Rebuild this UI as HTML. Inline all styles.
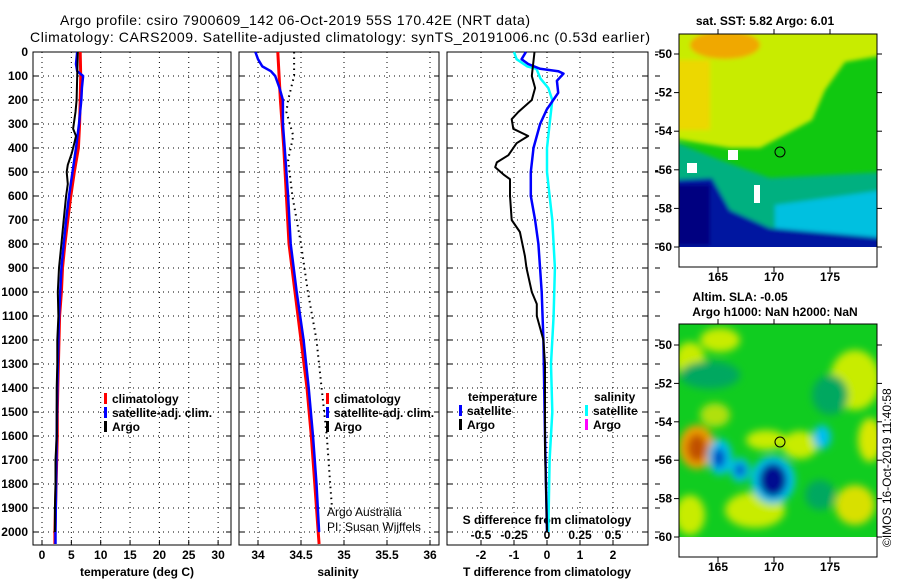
<!DOCTYPE html>
<html><head><meta charset="utf-8"><style>
html,body{margin:0;padding:0;background:#fff;}
svg{display:block;font-family:"Liberation Sans",sans-serif;}
.t{font-size:12px;font-weight:bold;fill:#000;}
</style></head><body>
<svg id="c" width="900" height="580" viewBox="0 0 900 580" xmlns="http://www.w3.org/2000/svg">
<defs>
<clipPath id="m1"><rect x="679" y="34" width="198" height="213"/></clipPath>
<clipPath id="m2"><rect x="679" y="324" width="198" height="213"/></clipPath>
<filter id="bl" x="-20%" y="-20%" width="140%" height="140%"><feGaussianBlur stdDeviation="4"/></filter>
<filter id="bl2" x="-20%" y="-20%" width="140%" height="140%"><feGaussianBlur stdDeviation="2"/></filter>
</defs>
<text x="295" y="25" text-anchor="middle" font-size="14" textLength="470">Argo profile: csiro 7900609_142 06-Oct-2019 55S 170.42E (NRT data)</text>
<text x="340" y="42" text-anchor="middle" font-size="14" textLength="620">Climatology: CARS2009. Satellite-adjusted climatology: synTS_20191006.nc (0.53d earlier)</text>

<g clip-path="url(#m1)">
<rect x="679" y="34" width="198" height="213" fill="#10c810"/>
<g filter="url(#bl2)">
<polygon points="670,25 885,25 885,55 845,62 825,90 812,120 790,132 760,148 730,148 670,138" fill="#c8ec00"/>
<ellipse cx="725" cy="45" rx="35" ry="14" fill="#f0a800"/>
<rect x="670" y="60" width="40" height="70" fill="#ecd800"/>
<polygon points="670,140 720,160 770,178 885,172 885,255 670,255" fill="#00b080"/>
<polygon points="775,205 885,190 885,255 775,255" fill="#00c0e0"/>
<polygon points="670,180 712,178 730,210 770,228 885,238 885,255 670,255" fill="#0018a0"/>
<rect x="670" y="185" width="40" height="60" fill="#000080"/>
</g>
<rect x="687" y="163" width="10" height="10" fill="#fff"/>
<rect x="728" y="150" width="10" height="10" fill="#fff"/>
<rect x="754" y="185" width="6" height="18" fill="#fff"/>
</g>
<rect x="679" y="34" width="198" height="233" fill="none" stroke="#000"/>
<circle cx="780" cy="152" r="5" fill="none" stroke="#000"/>
<text x="765" y="25" text-anchor="middle" class="t">sat. SST: 5.82 Argo: 6.01</text>

<g clip-path="url(#m2)">
<rect x="679" y="324" width="198" height="213" fill="#10cc20"/>
<g filter="url(#bl)">
<ellipse cx="690" cy="360" rx="15" ry="18" fill="#c8ec00"/>
<ellipse cx="720" cy="340" rx="20" ry="12" fill="#c8ec00"/>
<ellipse cx="855" cy="380" rx="25" ry="30" fill="#c8ec00"/>
<ellipse cx="870" cy="440" rx="12" ry="22" fill="#d8e800"/>
<ellipse cx="755" cy="510" rx="30" ry="18" fill="#c8ec00"/>
<ellipse cx="855" cy="505" rx="20" ry="20" fill="#d8e000"/>
<ellipse cx="690" cy="515" rx="15" ry="20" fill="#c8ec00"/>
<ellipse cx="800" cy="445" rx="18" ry="14" fill="#c8ec00"/>
<ellipse cx="766" cy="440" rx="20" ry="10" fill="#c8ec00"/>
<ellipse cx="715" cy="415" rx="15" ry="12" fill="#b0e010"/>
<ellipse cx="710" cy="375" rx="30" ry="14" fill="#00a860"/>
<ellipse cx="830" cy="395" rx="18" ry="20" fill="#00a860"/>
<ellipse cx="820" cy="495" rx="15" ry="15" fill="#00a860"/>
<ellipse cx="697" cy="447" rx="18" ry="22" fill="#f0a000"/>
<ellipse cx="697" cy="448" rx="10" ry="14" fill="#c05000"/>
<ellipse cx="720" cy="457" rx="12" ry="18" fill="#00c0f0"/>
<ellipse cx="740" cy="470" rx="10" ry="12" fill="#00c0f0"/>
<ellipse cx="773" cy="480" rx="22" ry="24" fill="#00c0f0"/>
<ellipse cx="822" cy="437" rx="9" ry="12" fill="#00c0f0"/>
<ellipse cx="719" cy="458" rx="6" ry="10" fill="#0040c0"/>
<ellipse cx="740" cy="470" rx="5" ry="6" fill="#0040c0"/>
<ellipse cx="773" cy="480" rx="14" ry="17" fill="#000890"/>
</g>
</g>
<rect x="679" y="324" width="198" height="233" fill="none" stroke="#000"/>
<circle cx="780" cy="442" r="5" fill="none" stroke="#000"/>
<text x="740" y="301" text-anchor="middle" class="t">Altim. SLA: -0.05</text>
<text x="775" y="316" text-anchor="middle" class="t">Argo h1000: NaN h2000: NaN</text>
<text transform="translate(891,547) rotate(-90)" font-size="12">©IMOS 16-Oct-2019 11:40:58</text>
<g id="axes"></g>
</svg>
<script>
const depthTicks = [0,100,200,300,400,500,600,700,800,900,1000,1100,1200,1300,1400,1500,1600,1700,1800,1900,2000];
const tempTicks = [0,5,10,15,20,25,30];
const salTicks = [34,34.5,35,35.5,36];
const salTickLabels = ['34','34.5','35','35.5','36'];
const dTTicks = [-2,-1,0,1,2];
const dSTicks = [-0.5,-0.25,0,0.25,0.5];
const dSTickLabels = ['-0.5','-0.25','0','0.25','0.5'];
const latTicks = [-50,-52,-54,-56,-58,-60];
const lonTicks = [165,170,175];

const tClimDepth = [0,100,200,300,400,500,600,700,800,900,1000,1100,1200,1300,1400,1500,1600,1700,1800,1900,2000,2050];
const tClim      = [6.5,6.6,6.5,6.4,6.2,5.5,4.9,4.4,3.9,3.5,3.3,3.0,2.9,2.8,2.7,2.6,2.6,2.5,2.4,2.3,2.2,2.2];
const tSatDepth = [0,50,80,100,150,200,300,400,500,600,700,800,900,1000,1100,1200,1400,1600,1800,2000,2050];
const tSat      = [6.0,5.8,6.0,7.0,6.8,6.7,6.3,5.8,5.2,4.6,4.1,3.7,3.3,3.1,2.9,2.8,2.6,2.5,2.4,2.3,2.3];
const tArgoDepth = [0,100,200,250,320,350,380,420,470,500,550,600,700,800,900,1000,1100,1200,1300,1400,1500,1600,1700,1800,1900,2000];
const tArgo      = [6.1,6.0,5.9,5.7,5.3,5.8,5.5,5.1,4.4,4.2,4.4,4.1,3.7,3.3,2.9,2.7,2.8,2.6,2.6,2.5,2.5,2.5,2.3,2.3,2.2,2.2];

const sClimDepth = [0,200,400,600,800,1000,1200,1400,1600,1800,2000,2050];
const sClim      = [34.23,34.26,34.30,34.33,34.36,34.43,34.50,34.57,34.62,34.66,34.70,34.71];
const sSatDepth = [0,30,60,80,100,150,200,300,400,600,800,1000,1200,1400,1600,1800,2000];
const sSat      = [33.97,34.0,34.05,34.15,34.2,34.25,34.29,34.29,34.31,34.35,34.38,34.45,34.53,34.59,34.64,34.68,34.71];
const sArgoDepth = [0,100,200,250,350,450,600,800,1000,1200,1400,1600,1800,1900];
const sArgo      = [34.42,34.42,34.35,34.33,34.41,34.35,34.40,34.50,34.58,34.68,34.74,34.80,34.84,34.86];

const dTArgoDepth = [0,100,150,200,250,280,320,350,380,430,460,480,510,530,600,700,750,850,900,1000,1050,1100,1150,1200,1300,1500,1650,2000];
const dTArgo      = [-0.38,-0.46,-0.36,-0.46,-0.87,-1.07,-1.02,-0.57,-0.92,-1.17,-1.52,-1.57,-1.32,-1.12,-1.12,-1.07,-0.82,-0.67,-0.62,-0.46,-0.31,-0.31,-0.21,-0.11,-0.06,-0.06,-0.06,0];
const dTSatDepth = [0,30,50,70,80,90,120,170,200,240,300,400,500,600,700,800,1000,1200,1600,2000];
const dTSat      = [-0.64,-0.77,-0.57,-0.21,0.34,0.50,0.30,0.34,0.19,-0.01,-0.21,-0.41,-0.49,-0.49,-0.36,-0.26,-0.16,-0.11,-0.06,0];
const dSSatDepth = [0,30,60,70,110,150,200,300,400,500,600,700,900,1100,1300,1500,1700,2000];
const dSSat      = [-0.25,-0.23,-0.15,-0.08,-0.05,0.01,0.04,0.02,0,0,0.02,0.04,0.06,0.05,0.03,0.04,0.02,0.01];

const NS='http://www.w3.org/2000/svg';
const root=document.getElementById('axes');
const Y0=52, YS=0.24, YB=545;
const yD = d => Y0 + d*YS;
const xT = t => 42 + t*5.87;
const xS = s => 258 + (s-34)*86;
const xDT = v => 547 + v*33;
const xDS = v => 547 + v*132;
function el(tag, attrs, parent){const e=document.createElementNS(NS,tag);for(const k in attrs)e.setAttribute(k,attrs[k]);(parent||root).appendChild(e);return e;}
function txt(x,y,s,anchor,cls,parent){const e=el('text',{x:x,y:y,'text-anchor':anchor||'middle','class':cls||'t'},parent);e.textContent=s;return e;}

const panels=[{l:33,r:231,name:'temperature'},{l:239,r:439,name:'salinity'},{l:447,r:648,name:'difference'}];
panels.forEach((p,i)=>{
  const g=el('g',{});
  
  
  depthTicks.forEach(d=>{
    el('line',{x1:p.l,x2:p.r,y1:yD(d),y2:yD(d),stroke:'#000','stroke-width':1,'stroke-dasharray':'1 4'},g);
    el('line',{x1:p.l,x2:p.l+5,y1:yD(d),y2:yD(d),stroke:'#000'},g);
    el('line',{x1:p.r-5,x2:p.r,y1:yD(d),y2:yD(d),stroke:'#000'},g);
  });
  el('rect',{x:p.l,y:Y0,width:p.r-p.l,height:YB-Y0,fill:'none',stroke:'#000'},g);
});
depthTicks.forEach(d=>{ el('line',{x1:655,x2:660,y1:yD(d),y2:yD(d),stroke:'#000'}); });
depthTicks.forEach(d=>{
  const t=txt(28,yD(d)+4,String(d),'end');
  
  
});
function vgrid(vals,fx){vals.forEach(v=>{el('line',{x1:fx(v),x2:fx(v),y1:Y0,y2:YB,stroke:'#000','stroke-dasharray':'1 4'});el('line',{x1:fx(v),x2:fx(v),y1:YB,y2:YB-5,stroke:'#000'});});}
vgrid(tempTicks,xT); vgrid(salTicks,xS); vgrid(dTTicks,xDT);
tempTicks.forEach(v=>{const t=txt(xT(v),559,String(v));});
salTicks.forEach((v,i)=>{const t=txt(xS(v),559,salTickLabels[i]);});
dTTicks.forEach(v=>{const t=txt(xDT(v),559,String(v));});
dSTicks.forEach((v,i)=>{const t=txt(xDS(v),539,dSTickLabels[i]);});
let at;
at=txt(137,576,'temperature (deg C)');
at=txt(338,576,'salinity');
at=txt(547,576,'T difference from climatology');
at=txt(547,524,'S difference from climatology');

function series(depths,vals,fx,color,w,name,dash){
  const pts=depths.map((d,i)=>fx(vals[i]).toFixed(1)+','+yD(d).toFixed(1)).join(' ');
  const a={points:pts,fill:'none',stroke:color,'stroke-width':w,'stroke-linejoin':'round'};
  if(dash)a['stroke-dasharray']=dash;
  const p=el('polyline',a);
  
  
}
series(tClimDepth,tClim,xT,'#ff0000',3,'temp-climatology-line');
series(tSatDepth,tSat,xT,'#0000ff',2.5,'temp-satellite-line');
series(tArgoDepth,tArgo,xT,'#000',2,'temp-argo-line');
series(sClimDepth,sClim,xS,'#ff0000',3,'sal-climatology-line');
series(sSatDepth,sSat,xS,'#0000ff',2.5,'sal-satellite-line');
series(sArgoDepth,sArgo,xS,'#000',2,'sal-argo-line','1.5 4');
series(dSSatDepth,dSSat,xDS,'#00ffff',2.5,'s-diff-satellite-line');
series(dTSatDepth,dTSat,xDT,'#0000ff',2.5,'t-diff-satellite-line');
series(dTArgoDepth,dTArgo,xDT,'#000',2,'t-diff-argo-line');

function legend(x,y,items){
  items.forEach((it,i)=>{
    const yy=y+i*14;
    el('rect',{x:x,y:yy-10,width:3,height:11,fill:it[0]});
    const t=txt(x+8,yy,it[1],'start');
    
    
  });
}
legend(104,403,[['#ff0000','climatology'],['#0000ff','satellite-adj. clim.'],['#000','Argo']]);
legend(326,403,[['#ff0000','climatology'],['#0000ff','satellite-adj. clim.'],['#000','Argo']]);
let lt=txt(468,401,'temperature','start');
lt=txt(594,401,'salinity','start');
legend(459,415,[['#0000ff','satellite'],['#000','Argo']]);
legend(585,415,[['#00ffff','satellite'],['#ff00ff','Argo']]);
const n1=el('text',{x:327,y:516,'font-size':12});n1.textContent='Argo Australia';

const n2=el('text',{x:327,y:531,'font-size':12});n2.textContent='PI: Susan Wijffels';


const xLon = lon => 718 + (lon-165)*11.2;
[[54,19.3,267],[345,19.2,557]].forEach(m=>{
  latTicks.forEach(lat=>{
    const y=m[0]+(-50-lat)*m[1];
    el('line',{x1:679,x2:674,y1:y,y2:y,stroke:'#000'});
    el('line',{x1:877,x2:882,y1:y,y2:y,stroke:'#000'});
    const t=txt(672,y+4,String(lat),'end');
    
  });
  lonTicks.forEach(lon=>{
    el('line',{x1:xLon(lon),x2:xLon(lon),y1:m[2],y2:m[2]+5,stroke:'#000'});
    el('line',{x1:xLon(lon),x2:xLon(lon),y1:m[2]-233,y2:m[2]-238,stroke:'#000'});
    const t=txt(xLon(lon),m[2]+14,String(lon));
    
  });
});
</script>
</body></html>
